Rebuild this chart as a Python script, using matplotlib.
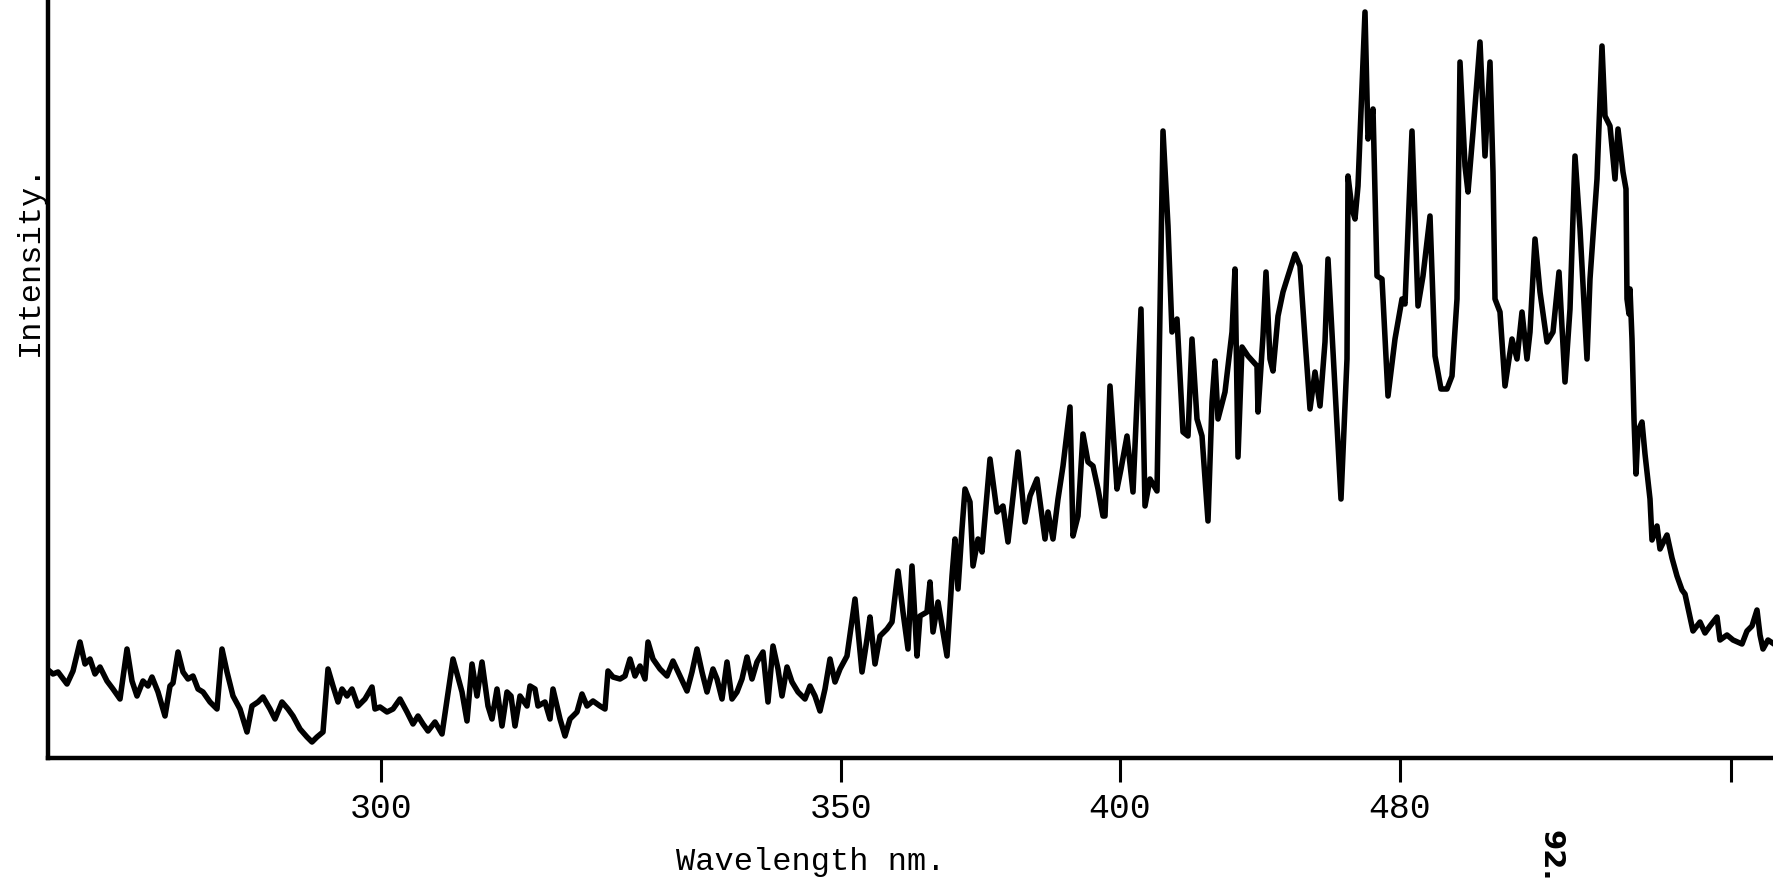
import numpy as np
import matplotlib
matplotlib.use("Agg")
from matplotlib import pyplot as plt

# chart position along the recorder trace (scan units) and pen deflection (arb. units)
pos = [47, 53, 58, 67, 73, 80, 85, 90, 95, 100, 107, 113, 120, 127, 132, 137, 143, 148, 152, 158,
       165, 170, 173, 178, 183, 188, 193, 198, 203, 210, 217, 222, 227, 233, 240, 247, 252, 258, 263, 270,
       275, 282, 288, 293, 300, 307, 312, 317, 323, 328, 333, 338, 342, 347, 352, 358, 365, 372, 375, 380,
       387, 393, 400, 407, 413, 418, 423, 428, 435, 442, 453, 462, 467, 472, 477, 482, 488,
       492, 497, 502, 507, 511, 515, 520, 527, 530, 535, 538, 545, 550, 553, 560, 565, 570, 577, 582, 587,
       593, 600, 605, 608, 613, 620, 625, 630, 635, 640, 645, 648, 653, 660, 667, 673, 680, 687, 692, 697,
       702, 707, 713, 717, 722, 727, 732, 737, 742, 747, 752, 757, 763, 768, 773, 778, 782, 787, 792, 798,
       805, 810, 815, 820, 825, 830, 835, 840, 847, 855, 862, 867, 870, 875, 880, 887, 892, 898, 903, 908,
       912, 917, 920, 927, 930, 933, 938, 947, 952, 955, 958, 962, 965, 970, 973, 978, 982, 990, 997, 1003,
       1008, 1012, 1018, 1025, 1030, 1037, 1045, 1048, 1053, 1058, 1063, 1070, 1073, 1078, 1083, 1088, 1093,
       1098, 1103, 1105, 1110, 1117, 1121, 1127, 1133, 1141, 1145, 1150, 1157, 1163, 1168, 1172, 1177, 1183,
       1188, 1192, 1197, 1202, 1208, 1212, 1215, 1218, 1225, 1232, 1235, 1238, 1242, 1248, 1257, 1258, 1263,
       1266, 1270, 1273, 1278, 1283, 1288, 1295, 1300, 1305, 1310, 1315, 1320, 1325, 1328, 1333, 1341, 1347,
       1348, 1352, 1355, 1358, 1365, 1368, 1370, 1373, 1377, 1382, 1388, 1395, 1402, 1405, 1412, 1418, 1423,
       1430, 1435, 1441, 1447, 1452, 1457, 1460, 1465, 1468, 1473, 1480, 1485, 1490, 1493, 1495, 1500, 1505,
       1512, 1517, 1522, 1527, 1530, 1535, 1540, 1547, 1553, 1559, 1565, 1570, 1575, 1580, 1587, 1590, 1597,
       1602, 1605, 1610, 1615, 1618, 1623, 1626, 1627, 1629, 1630, 1632, 1634, 1636, 1638, 1642, 1645, 1650,
       1652, 1657, 1660, 1667, 1672, 1677, 1682, 1685, 1690, 1693, 1700, 1705, 1710, 1717, 1720, 1727, 1733,
       1742, 1747, 1752, 1757, 1760, 1763, 1768, 1774]

intensity = [89, 84, 86, 74, 87, 116, 94, 99, 84, 91, 77, 69, 59, 109, 77, 62, 77, 72, 81, 66,
             42, 72, 75, 106, 86, 79, 82, 69, 66, 56, 49, 109, 86, 62, 49, 26, 52, 56, 61, 49,
             39, 56, 49, 42, 29, 21, 16, 21, 26, 89, 72, 56, 69, 62, 69, 52, 59, 71, 49, 51,
             46, 49, 59, 46, 34, 42, 34, 27, 36, 24, 99, 66, 37, 94, 62, 96, 52,
             39, 69, 32, 66, 62, 32, 62, 52, 72, 69, 52, 56, 39, 69, 39, 22, 39, 46, 64, 52,
             57, 52, 49, 87, 81, 79, 82, 99, 82, 92, 79, 116, 99, 89, 82, 97, 82, 67, 86, 109,
             86, 66, 89, 79, 59, 96, 59, 66, 79, 101, 79, 96, 106, 56, 112, 89, 62, 91, 76, 66,
             59, 72, 62, 47, 69, 99, 76, 89, 102, 159, 86, 119, 141, 94, 122, 129, 136, 187, 146, 109,
             192, 102, 142, 146, 176, 126, 156, 102, 182, 219, 169, 229, 269, 256, 192, 219, 206, 299, 246, 252,
             216, 252, 306, 236, 262, 279, 219, 246, 219, 259, 292, 351, 222, 242, 324, 296, 292,
             269, 242, 242, 372, 269, 289, 322, 266, 449, 252, 279, 267, 627, 532, 426, 439, 326,
             322, 419, 339, 322, 237, 356, 397, 339, 366, 426, 489, 301, 411, 402, 392, 346, 422,
             486, 399, 387, 442, 466, 482, 504, 492, 419, 349, 386, 352, 416, 499, 406, 259, 399,
             582, 549, 539, 572, 746, 619, 629, 649, 482, 479, 362, 419, 459, 454, 627, 452, 482,
             542, 402, 369, 369, 382, 459, 696, 592, 566, 626, 716, 602, 696, 586, 459, 446, 372,
             419, 399, 446, 399, 426, 519, 466, 416, 426, 486, 376, 449, 602, 529, 399, 479, 579,
             712, 642, 632, 579, 629, 586, 569, 459, 444, 469, 419, 339, 284, 327, 336, 304, 259,
             218, 232, 209, 223, 200, 182, 168, 164, 141, 127, 136, 125, 132, 141, 118, 123, 118,
             114, 127, 132, 148, 123, 109, 118, 114]

tick_pos = [381, 841, 1120, 1400, 1731]
tick_labels = ["300", "350", "400", "480", ""]

mono = "Liberation Mono"

fig = plt.figure(figsize=(17.74, 8.79), dpi=100)
ax = fig.add_axes([48 / 1774, 1 - 759 / 879, 1 - 48 / 1774, 759 / 879])

ax.plot(pos, intensity, color="black", linewidth=4.0, solid_joinstyle="round")

ax.set_xlim(48, 1774)
ax.set_ylim(0, 759)

for side in ["top", "right"]:
    ax.spines[side].set_visible(False)
ax.spines["left"].set_linewidth(3.2)
ax.spines["bottom"].set_linewidth(3.2)

ax.set_yticks([])
ax.set_xticks(tick_pos)
ax.set_xticklabels(tick_labels, fontfamily=mono, fontsize=25)
ax.tick_params(axis="x", direction="out", length=17, width=2.2, pad=7)

fig.text(811 / 1774, 1 - 862 / 879, "Wavelength nm.", fontfamily=mono, fontsize=23,
         ha="center", va="center")
fig.text(30 / 1774, 1 - 260 / 879, "Intensity.", fontfamily=mono, fontsize=23,
         rotation=90, ha="center", va="center")
fig.text(1551 / 1774, 1 - 856 / 879, "92.", fontfamily="DejaVu Sans", fontsize=21,
         fontweight="bold", rotation=-90, ha="center", va="center")

fig.savefig("out.png", dpi=100, facecolor="white")
